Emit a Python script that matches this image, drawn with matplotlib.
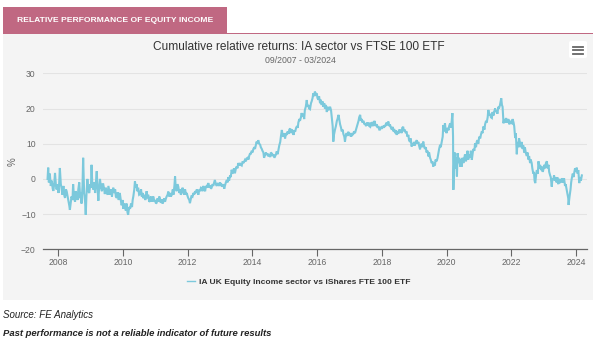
import numpy as np
import matplotlib
matplotlib.use("Agg")
import matplotlib.pyplot as plt
from matplotlib.patches import Rectangle, FancyBboxPatch

# ── Data: cumulative relative return (%) ─────────────────────────────
readings = [
    # 2007
    (2007.67, 0.0), (2007.69, 3.2), (2007.71, -1.0), (2007.74, 1.5), (2007.77, -2.0), (2007.80, -0.5),
    (2007.83, -2.8), (2007.85, -3.4), (2007.88, -1.0), (2007.90, 1.7), (2007.93, -2.0), (2007.95, -3.0),
    (2007.98, -1.5),
    # 2008
    (2008.01, -4.0), (2008.03, -1.0), (2008.05, 3.1), (2008.08, -1.5), (2008.10, -2.5), (2008.13, -4.5),
    (2008.16, -2.0), (2008.19, -4.8), (2008.21, -5.4), (2008.24, -3.0), (2008.26, -3.5), (2008.29, -5.0),
    (2008.31, -6.0), (2008.34, -7.5), (2008.36, -8.8), (2008.39, -6.5), (2008.41, -5.0), (2008.44, -6.0),
    (2008.46, -1.5), (2008.49, -5.5), (2008.52, -6.5), (2008.54, -3.5), (2008.57, -4.3), (2008.60, -6.0),
    (2008.62, -3.0), (2008.65, -1.0), (2008.68, -5.5), (2008.70, -4.0), (2008.72, -7.0), (2008.75, -2.0),
    (2008.77, 6.0), (2008.79, -1.0), (2008.80, -4.0), (2008.83, -6.5), (2008.85, -10.2), (2008.87, -5.0),
    (2008.90, 0.0), (2008.93, -3.5), (2008.96, -4.0), (2008.99, -1.5),
    # 2009
    (2009.01, -2.5), (2009.03, 4.0), (2009.05, -1.0), (2009.08, -3.0), (2009.11, -1.0), (2009.14, -4.0),
    (2009.17, -0.5), (2009.19, 2.2), (2009.21, -2.0), (2009.24, -6.2), (2009.26, -3.0), (2009.29, 0.0),
    (2009.32, -2.5), (2009.35, -3.5), (2009.37, -1.5), (2009.39, -1.5), (2009.42, -3.0), (2009.44, -4.3),
    (2009.47, -2.5), (2009.50, -3.8), (2009.53, -4.5), (2009.55, -2.0), (2009.58, -3.5), (2009.60, -4.5),
    (2009.63, -3.0), (2009.66, -5.0), (2009.68, -3.5), (2009.70, -2.5), (2009.73, -4.0), (2009.76, -3.0),
    (2009.78, -5.0), (2009.81, -5.4), (2009.84, -3.8), (2009.87, -6.0), (2009.89, -4.0), (2009.91, -4.5),
    (2009.94, -6.5), (2009.96, -7.5), (2009.99, -6.0),
    # 2010
    (2010.01, -8.5), (2010.04, -7.0), (2010.06, -8.0), (2010.09, -9.0), (2010.11, -7.0), (2010.14, -9.5),
    (2010.16, -10.2), (2010.19, -8.0), (2010.22, -8.5), (2010.25, -7.0), (2010.28, -8.0), (2010.30, -6.0),
    (2010.32, -5.0), (2010.35, -3.0), (2010.37, -0.7), (2010.40, -2.5), (2010.42, -1.5), (2010.44, -3.5),
    (2010.47, -2.5), (2010.50, -4.5), (2010.53, -4.3), (2010.56, -3.0), (2010.58, -5.0), (2010.61, -4.0),
    (2010.63, -5.5), (2010.66, -4.5), (2010.69, -6.0), (2010.71, -5.0), (2010.73, -3.5), (2010.76, -5.5),
    (2010.78, -4.5), (2010.81, -6.5), (2010.83, -6.3), (2010.86, -5.0), (2010.89, -6.5), (2010.91, -5.5),
    (2010.94, -5.0), (2010.97, -6.5),
    # 2011
    (2011.00, -6.0), (2011.02, -7.0), (2011.04, -6.8), (2011.07, -5.5), (2011.10, -6.5), (2011.12, -5.0),
    (2011.14, -5.5), (2011.17, -6.8), (2011.20, -5.8), (2011.22, -7.0), (2011.25, -6.5), (2011.28, -5.5),
    (2011.30, -6.5), (2011.33, -5.5), (2011.35, -5.0), (2011.38, -4.5), (2011.40, -3.6), (2011.43, -5.0),
    (2011.46, -4.0), (2011.48, -5.0), (2011.51, -4.5), (2011.54, -3.0), (2011.56, -4.5), (2011.59, -2.0),
    (2011.61, 0.7), (2011.63, -2.5), (2011.66, -3.5), (2011.68, -1.5), (2011.71, -2.2), (2011.74, -4.0),
    (2011.76, -3.0), (2011.79, -4.5), (2011.81, -4.0), (2011.84, -2.5), (2011.87, -3.5), (2011.89, -4.5),
    (2011.92, -3.0), (2011.95, -4.5), (2011.97, -4.0),
    # 2012
    (2012.00, -5.0), (2012.02, -5.5), (2012.05, -6.0), (2012.07, -6.9), (2012.10, -5.5), (2012.12, -4.7),
    (2012.15, -5.0), (2012.18, -4.0), (2012.20, -4.5), (2012.23, -3.5), (2012.26, -4.0), (2012.28, -3.0),
    (2012.31, -3.8), (2012.33, -4.5), (2012.36, -3.0), (2012.38, -3.5), (2012.41, -2.5), (2012.43, -2.6),
    (2012.46, -3.5), (2012.48, -2.0), (2012.51, -3.0), (2012.54, -3.5), (2012.56, -2.0), (2012.59, -2.5),
    (2012.61, -1.8), (2012.64, -1.2), (2012.67, -2.5), (2012.69, -1.8), (2012.72, -2.8), (2012.74, -2.5),
    (2012.77, -1.5), (2012.79, -2.0), (2012.82, -1.0), (2012.84, -0.3), (2012.87, -1.5), (2012.90, -2.0),
    (2012.92, -1.2), (2012.95, -1.5), (2012.97, -2.0),
    # 2013
    (2013.00, -1.0), (2013.03, -2.0), (2013.05, -1.7), (2013.08, -2.2), (2013.10, -1.5), (2013.13, -2.8),
    (2013.15, -2.0), (2013.18, -1.0), (2013.21, -0.3), (2013.23, -1.0), (2013.26, 0.5), (2013.28, -0.5),
    (2013.31, 1.0), (2013.33, 0.5), (2013.36, 2.6), (2013.38, 1.5), (2013.41, 2.0), (2013.43, 3.0),
    (2013.46, 1.6), (2013.49, 3.0), (2013.51, 3.5), (2013.54, 3.0), (2013.56, 4.5), (2013.59, 3.8),
    (2013.62, 4.5), (2013.64, 4.0), (2013.67, 3.8), (2013.70, 5.0), (2013.72, 4.5), (2013.75, 5.0),
    (2013.77, 5.4), (2013.80, 5.0), (2013.82, 5.8), (2013.85, 6.0), (2013.88, 5.5), (2013.90, 6.5),
    (2013.93, 7.3), (2013.95, 7.0), (2013.98, 8.0),
    # 2014
    (2014.00, 7.5), (2014.03, 8.5), (2014.06, 9.0), (2014.08, 8.5), (2014.11, 9.8), (2014.13, 10.6),
    (2014.16, 10.0), (2014.18, 11.0), (2014.21, 10.0), (2014.24, 9.7), (2014.26, 9.0), (2014.29, 8.5),
    (2014.31, 8.0), (2014.34, 7.5), (2014.36, 6.0), (2014.39, 6.8), (2014.42, 7.5), (2014.44, 6.8),
    (2014.47, 7.2), (2014.49, 6.4), (2014.52, 7.0), (2014.55, 6.2), (2014.57, 7.5), (2014.60, 7.2),
    (2014.62, 6.5), (2014.65, 7.0), (2014.68, 6.0), (2014.70, 6.4), (2014.73, 7.0), (2014.75, 7.8),
    (2014.78, 7.0), (2014.80, 8.0), (2014.83, 9.5), (2014.86, 10.5), (2014.88, 12.0), (2014.91, 13.9),
    (2014.93, 12.5), (2014.96, 12.0), (2014.98, 13.0),
    # 2015
    (2015.01, 11.5), (2015.04, 13.0), (2015.06, 12.5), (2015.09, 13.5), (2015.12, 12.8), (2015.14, 14.0),
    (2015.17, 14.3), (2015.20, 13.0), (2015.22, 14.0), (2015.25, 13.5), (2015.27, 12.5), (2015.30, 13.8),
    (2015.32, 13.4), (2015.35, 14.5), (2015.38, 15.0), (2015.40, 14.5), (2015.42, 16.0), (2015.45, 17.0),
    (2015.47, 16.5), (2015.50, 17.5), (2015.52, 18.7), (2015.55, 17.8), (2015.57, 18.5), (2015.60, 17.0),
    (2015.62, 19.5), (2015.65, 20.5), (2015.68, 22.4), (2015.70, 20.5), (2015.73, 21.0), (2015.75, 20.0),
    (2015.78, 19.8), (2015.81, 21.5), (2015.83, 22.0), (2015.86, 23.0), (2015.88, 24.3), (2015.91, 23.5),
    (2015.93, 24.8), (2015.96, 24.0), (2015.99, 24.3),
    # 2016
    (2016.01, 23.0), (2016.04, 22.5), (2016.06, 23.5), (2016.09, 21.5), (2016.11, 22.5), (2016.14, 21.0),
    (2016.17, 22.0), (2016.19, 20.5), (2016.22, 21.5), (2016.24, 20.0), (2016.27, 21.0), (2016.30, 19.0),
    (2016.32, 20.5), (2016.35, 19.5), (2016.38, 20.0), (2016.40, 20.5), (2016.43, 19.5), (2016.45, 17.7),
    (2016.48, 15.0), (2016.50, 10.6), (2016.52, 12.5), (2016.55, 13.9), (2016.58, 15.0), (2016.61, 16.5),
    (2016.63, 17.0), (2016.66, 18.2), (2016.69, 16.5), (2016.71, 15.5), (2016.74, 14.5), (2016.76, 13.5),
    (2016.79, 14.0), (2016.81, 12.8), (2016.84, 12.0), (2016.86, 10.6), (2016.89, 12.5), (2016.91, 13.0),
    (2016.94, 12.2), (2016.96, 13.4), (2016.99, 12.5),
    # 2017
    (2017.02, 13.0), (2017.04, 12.0), (2017.07, 13.0), (2017.09, 12.5), (2017.12, 12.8), (2017.14, 13.5),
    (2017.17, 13.0), (2017.20, 14.0), (2017.22, 14.6), (2017.25, 15.5), (2017.28, 16.5), (2017.30, 17.5),
    (2017.33, 18.2), (2017.35, 16.5), (2017.38, 17.0), (2017.40, 16.0), (2017.43, 16.5), (2017.46, 15.5),
    (2017.48, 15.8), (2017.51, 15.0), (2017.54, 16.0), (2017.56, 15.2), (2017.59, 16.0), (2017.61, 15.0),
    (2017.64, 14.8), (2017.66, 16.0), (2017.69, 15.0), (2017.71, 16.2), (2017.74, 15.0), (2017.77, 16.5),
    (2017.79, 15.8), (2017.82, 15.0), (2017.84, 15.5), (2017.87, 14.5), (2017.89, 15.0), (2017.92, 14.0),
    (2017.94, 14.0), (2017.97, 14.8), (2017.99, 14.2),
    # 2018
    (2018.02, 15.0), (2018.05, 14.5), (2018.07, 15.2), (2018.10, 14.8), (2018.12, 15.5), (2018.15, 16.0),
    (2018.17, 15.2), (2018.20, 16.3), (2018.23, 15.0), (2018.25, 15.5), (2018.28, 14.5), (2018.31, 14.0),
    (2018.33, 14.8), (2018.36, 13.5), (2018.38, 14.2), (2018.41, 13.0), (2018.43, 13.8), (2018.46, 12.5),
    (2018.48, 13.5), (2018.51, 12.8), (2018.53, 14.0), (2018.56, 13.2), (2018.58, 14.0), (2018.61, 13.0),
    (2018.63, 14.5), (2018.66, 14.8), (2018.68, 13.5), (2018.71, 14.0), (2018.74, 13.0), (2018.76, 13.5),
    (2018.79, 12.0), (2018.82, 12.5), (2018.84, 11.0), (2018.87, 10.5), (2018.89, 11.5), (2018.92, 9.2),
    (2018.94, 10.0), (2018.97, 9.5), (2018.99, 10.5),
    # 2019
    (2019.02, 9.5), (2019.05, 10.5), (2019.08, 11.0), (2019.10, 10.0), (2019.13, 10.5), (2019.15, 9.5),
    (2019.18, 8.4), (2019.20, 9.5), (2019.23, 10.0), (2019.25, 9.0), (2019.28, 10.6), (2019.30, 9.5),
    (2019.33, 8.5), (2019.36, 9.0), (2019.38, 7.5), (2019.41, 8.0), (2019.44, 6.4), (2019.46, 7.5),
    (2019.49, 6.0), (2019.51, 5.5), (2019.54, 4.5), (2019.56, 5.0), (2019.59, 3.5), (2019.61, 4.5),
    (2019.64, 3.8), (2019.66, 5.5), (2019.69, 5.0), (2019.72, 5.9), (2019.74, 7.0), (2019.77, 8.5),
    (2019.80, 9.7), (2019.82, 9.0), (2019.85, 10.5), (2019.88, 12.0), (2019.90, 15.3), (2019.92, 13.5),
    (2019.95, 15.8), (2019.97, 14.0),
    # 2020
    (2020.00, 13.0), (2020.03, 14.5), (2020.06, 13.8), (2020.08, 15.0), (2020.11, 15.8), (2020.13, 14.5),
    (2020.16, 16.5), (2020.18, 18.7), (2020.20, 12.0), (2020.21, -3.1), (2020.23, 4.0), (2020.25, 7.5),
    (2020.27, 3.0), (2020.29, 6.0), (2020.32, 0.7), (2020.34, 7.3), (2020.37, 4.5), (2020.39, 6.0),
    (2020.42, 3.5), (2020.44, 5.5), (2020.47, 3.5), (2020.49, 6.0), (2020.52, 4.5), (2020.54, 5.5),
    (2020.57, 7.0), (2020.60, 5.0), (2020.62, 6.4), (2020.65, 8.0), (2020.67, 5.5), (2020.70, 7.0),
    (2020.73, 6.0), (2020.75, 8.0), (2020.78, 5.4), (2020.81, 7.5), (2020.83, 8.5), (2020.86, 8.0),
    (2020.88, 10.1), (2020.91, 9.0), (2020.93, 10.5), (2020.96, 11.0), (2020.98, 10.0),
    # 2021
    (2021.01, 12.0), (2021.04, 11.5), (2021.06, 12.5), (2021.09, 13.5), (2021.11, 13.0), (2021.14, 14.9),
    (2021.17, 14.0), (2021.19, 15.5), (2021.22, 16.5), (2021.24, 16.0), (2021.27, 17.5), (2021.29, 19.6),
    (2021.32, 18.0), (2021.35, 18.5), (2021.37, 17.5), (2021.40, 17.3), (2021.42, 19.0), (2021.45, 18.0),
    (2021.47, 19.0), (2021.50, 20.0), (2021.52, 19.0), (2021.55, 19.5), (2021.57, 18.5), (2021.60, 20.5),
    (2021.62, 20.0), (2021.65, 21.0), (2021.67, 22.0), (2021.69, 22.9), (2021.71, 21.0), (2021.73, 20.5),
    (2021.76, 15.8), (2021.78, 17.0), (2021.81, 16.0), (2021.84, 17.3), (2021.86, 16.0), (2021.89, 16.5),
    (2021.91, 17.0), (2021.94, 15.5), (2021.97, 16.5), (2021.99, 16.0),
    # 2022
    (2022.02, 15.8), (2022.04, 17.0), (2022.07, 16.0), (2022.09, 15.0), (2022.12, 11.6), (2022.14, 13.0),
    (2022.17, 7.0), (2022.19, 10.5), (2022.22, 9.0), (2022.24, 11.5), (2022.27, 10.1), (2022.29, 9.0),
    (2022.32, 10.5), (2022.35, 8.5), (2022.37, 9.5), (2022.40, 7.5), (2022.42, 9.0), (2022.45, 7.3),
    (2022.48, 6.5), (2022.50, 7.5), (2022.53, 5.5), (2022.55, 6.5), (2022.58, 4.5), (2022.60, 5.5),
    (2022.63, 4.5), (2022.65, 3.0), (2022.68, 1.5), (2022.70, 2.0), (2022.72, -0.5), (2022.74, -1.2),
    (2022.77, 1.5), (2022.79, 2.5), (2022.82, 1.5), (2022.84, 5.0), (2022.87, 3.0), (2022.89, 4.0),
    (2022.92, 2.5), (2022.94, 3.5), (2022.97, 2.0), (2022.99, 2.6),
    # 2023
    (2023.02, 4.0), (2023.04, 3.0), (2023.07, 4.5), (2023.10, 5.0), (2023.12, 3.0), (2023.15, 4.0),
    (2023.17, 2.0), (2023.20, 1.0), (2023.22, 0.5), (2023.25, -2.2), (2023.27, 0.0), (2023.30, -0.3),
    (2023.32, 1.0), (2023.35, -0.5), (2023.37, 0.5), (2023.40, -1.0), (2023.42, 0.5), (2023.45, -1.5),
    (2023.47, 0.0), (2023.50, -1.2), (2023.53, 0.0), (2023.55, -1.0), (2023.58, 0.2), (2023.61, -1.0),
    (2023.63, 0.2), (2023.66, -2.0), (2023.68, -1.5), (2023.71, -3.0), (2023.73, -4.0), (2023.76, -5.5),
    (2023.77, -7.4), (2023.80, -5.0), (2023.83, -3.0), (2023.85, -1.0), (2023.87, 0.2), (2023.90, 1.5),
    (2023.92, 0.5), (2023.95, 2.0), (2023.97, 3.0),
    # 2024
    (2024.00, 2.0), (2024.02, 3.2), (2024.05, 1.5), (2024.07, 2.5), (2024.10, -1.2), (2024.12, 0.5),
    (2024.15, -0.5), (2024.18, 1.0),
]
dates = np.array([d for d, _ in readings])
rel_return = np.array([v for _, v in readings])

year_ticks = list(range(2008, 2025, 2))
y_ticks = [-20, -10, 0, 10, 20, 30]

SERIES_LABEL = "IA UK Equity Income sector vs iShares FTE 100 ETF"
LINE_COLOR = "#7cc9dc"
PINK = "#c06882"
FONT = "Liberation Sans"

# ── Figure & decorations ─────────────────────────────────────────────
W, H = 600, 348
fig = plt.figure(figsize=(W / 100, H / 100), dpi=100)
fig.patch.set_facecolor("white")

def fx(px):
    return px / W

def fy(py):
    return 1 - py / H

# grey panel (behind the axes)
fig.patches.append(Rectangle((fx(3), fy(300)), fx(590), (300 - 34) / H,
                             transform=fig.transFigure, facecolor="#f4f4f4",
                             edgecolor="none", zorder=-10))
# pink tab + rule
fig.patches.append(Rectangle((fx(3), fy(33)), fx(224), 26 / H,
                             transform=fig.transFigure, facecolor=PINK,
                             edgecolor="none", zorder=-9))
fig.patches.append(Rectangle((fx(3), fy(34)), fx(590), 1.2 / H,
                             transform=fig.transFigure, facecolor=PINK,
                             edgecolor="none", zorder=-9))
fig.text(fx(115), fy(20.5), "RELATIVE PERFORMANCE OF EQUITY INCOME", color="white",
         fontsize=6.1, fontweight="bold", ha="center", va="center", family=FONT)

# menu button
fig.patches.append(FancyBboxPatch((fx(569), fy(58)), fx(18), 17 / H,
                                  boxstyle="round,pad=0,rounding_size=0.004",
                                  transform=fig.transFigure, facecolor="white",
                                  edgecolor="none", zorder=-8))
for py in (46.5, 50, 53.5):
    fig.lines.append(plt.Line2D([fx(573), fx(583)], [fy(py), fy(py)],
                                transform=fig.transFigure, color="#666666",
                                linewidth=1.3, zorder=-7))

# titles
fig.text(fx(299), fy(47), "Cumulative relative returns: IA sector vs FTSE 100 ETF",
         fontsize=8.6, color="#333333", ha="center", va="center", family=FONT)
fig.text(fx(300), fy(60.5), "09/2007 - 03/2024", fontsize=6.3, color="#666666",
         ha="center", va="center", family=FONT)

# ── Chart ────────────────────────────────────────────────────────────
ax = fig.add_axes([fx(42.7), fy(249.3), fx(586.7 - 42.7), (249.3 - 73.3) / H])
ax.set_facecolor("none")
ax.plot(dates, rel_return, color=LINE_COLOR, linewidth=1.5, solid_joinstyle="miter",
        label=SERIES_LABEL, zorder=3)

ax.set_xlim(2007.52, 2024.33)
ax.set_ylim(-20, 30)
ax.set_yticks(y_ticks)
ax.set_xticks(year_ticks)
ax.set_xticklabels([str(y) for y in year_ticks])
ax.grid(axis="y", color="#e3e3e3", linewidth=0.8)
ax.set_axisbelow(True)
for s in ("top", "right", "left"):
    ax.spines[s].set_visible(False)
ax.spines["bottom"].set_color("#666666")
ax.spines["bottom"].set_linewidth(0.9)
ax.tick_params(axis="x", length=5, width=0.8, color="#666666", pad=1,
               labelsize=6.2, labelcolor="#666666")
ax.tick_params(axis="y", length=0, pad=5, labelsize=6.2, labelcolor="#666666")
for lab in ax.get_xticklabels() + ax.get_yticklabels():
    lab.set_family(FONT)
ax.set_ylabel("%", fontsize=7, color="#666666", family=FONT)
ax.yaxis.set_label_coords(-0.047, 0.5)

leg = ax.legend(loc="center", bbox_to_anchor=(0.470, -0.185), frameon=False,
                handlelength=1.0, handletextpad=0.4,
                prop={"family": FONT, "size": 6.1, "weight": "bold"})
for t in leg.get_texts():
    t.set_color("#333333")
for h in leg.get_lines():
    h.set_linewidth(1.0)

# footnotes
fig.text(fx(3), fy(315), "Source: FE Analytics", fontsize=7, style="italic",
         color="#222222", ha="left", va="center", family=FONT)
fig.text(fx(3), fy(333), "Past performance is not a reliable indicator of future results",
         fontsize=6.8, style="italic", fontweight="bold", color="#222222",
         ha="left", va="center", family=FONT)

fig.savefig("out.png", dpi=100)
